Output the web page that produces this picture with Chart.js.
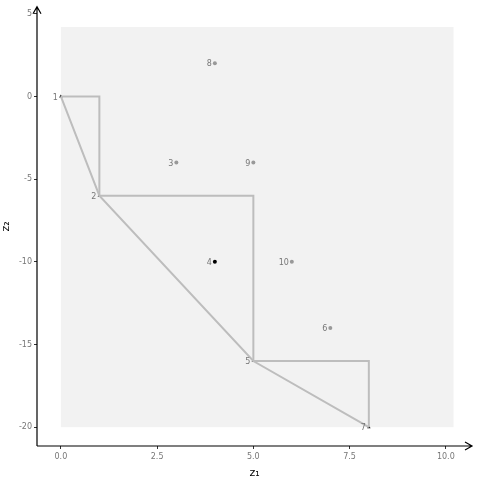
<!DOCTYPE html>
<html>
<head>
<meta charset="utf-8">
<script src="https://cdn.jsdelivr.net/npm/chart.js@4/dist/chart.umd.min.js"></script>
<style>
  html, body { margin: 0; padding: 0; background: #fff; }
  #wrap { width: 480px; height: 480px; }
</style>
</head>
<body>
<div id="wrap"><canvas id="chart" width="480" height="480"></canvas></div>
<script>
// point ids and coordinates
const pointIds = ['1', '2', '3', '4', '5', '6', '7', '8', '9', '10'];
const pointX = [0, 1, 3, 4, 5, 7, 8, 4, 5, 6];
const pointY = [0, -6, -4, -10, -16, -14, -20, 2, -4, -10];
// non-dominated points (black markers) and highlighted point
const frontIds = ['1', '2', '5', '7'];
const blackIds = ['4'];
// staircase and hull outlines
const stairX = [0, 1, 1, 5, 5, 8, 8];
const stairY = [0, 0, -6, -6, -16, -16, -20];
const hullX = [0, 1, 5, 8];
const hullY = [0, -6, -16, -20];
// shaded region corners
const regionX = [0, 10.2];
const regionY = [-20, 4.2];
// ticks
const xTicks = [0, 2.5, 5, 7.5, 10];
const yTicks = [5, 0, -5, -10, -15, -20];

const toXY = (xs, ys) => xs.map((x, i) => ({ x: x, y: ys[i] }));
const pick = (ids) => ids.map(id => ({ x: pointX[pointIds.indexOf(id)], y: pointY[pointIds.indexOf(id)] }));
const grayIds = pointIds.filter(id => !frontIds.includes(id) && !blackIds.includes(id));

const FONT = 'DejaVu Sans';

// shaded rectangle behind the data
const regionPlugin = {
  id: 'region',
  beforeDatasetsDraw(chart) {
    const { ctx, scales } = chart;
    const x0 = scales.x.getPixelForValue(regionX[0]);
    const x1 = scales.x.getPixelForValue(regionX[1]);
    const y0 = scales.y.getPixelForValue(regionY[1]);
    const y1 = scales.y.getPixelForValue(regionY[0]);
    ctx.save();
    ctx.fillStyle = '#f2f2f2';
    ctx.fillRect(x0, y0, x1 - x0, y1 - y0);
    ctx.restore();
  }
};

// point labels and axis arrows
const decoPlugin = {
  id: 'deco',
  afterDraw(chart) {
    const { ctx, scales, chartArea } = chart;
    ctx.save();
    ctx.fillStyle = '#777';
    ctx.font = '8px ' + FONT;
    ctx.textAlign = 'right';
    ctx.textBaseline = 'middle';
    pointIds.forEach((id, i) => {
      const px = scales.x.getPixelForValue(pointX[i]);
      const py = scales.y.getPixelForValue(pointY[i]);
      ctx.fillText(id, px - 3, py + 1);
    });
    // axes with arrow heads
    ctx.strokeStyle = '#000';
    ctx.lineWidth = 1.2;
    const left = chartArea.left, bottom = chartArea.bottom;
    ctx.beginPath();
    ctx.moveTo(left, bottom);
    ctx.lineTo(left, chartArea.top);
    ctx.moveTo(left - 4, chartArea.top + 7);
    ctx.lineTo(left, chartArea.top);
    ctx.lineTo(left + 4, chartArea.top + 7);
    ctx.moveTo(left, bottom);
    ctx.lineTo(chartArea.right, bottom);
    ctx.moveTo(chartArea.right - 7, bottom - 4);
    ctx.lineTo(chartArea.right, bottom);
    ctx.lineTo(chartArea.right - 7, bottom + 4);
    ctx.stroke();
    ctx.restore();
  }
};

new Chart(document.getElementById('chart'), {
  type: 'scatter',
  data: {
    datasets: [
      {
        data: toXY(stairX, stairY),
        showLine: true,
        borderColor: '#bdbdbd',
        borderWidth: 2,
        pointRadius: 0
      },
      {
        data: toXY(hullX, hullY),
        showLine: true,
        borderColor: '#bdbdbd',
        borderWidth: 2,
        pointRadius: 0
      },
      {
        data: pick(grayIds),
        pointRadius: 2,
        pointBackgroundColor: '#999',
        pointBorderWidth: 0
      },
      {
        data: pick(blackIds),
        pointRadius: 2,
        pointBackgroundColor: '#000',
        pointBorderWidth: 0
      },
      {
        data: pick(frontIds),
        pointStyle: 'triangle',
        pointRadius: 2,
        pointBackgroundColor: '#000',
        pointBorderWidth: 0
      }
    ]
  },
  options: {
    responsive: false,
    animation: false,
    layout: { padding: { top: 5, right: 8, left: 0, bottom: 0 } },
    plugins: {
      legend: { display: false },
      tooltip: { enabled: false }
    },
    scales: {
      x: {
        type: 'linear',
        min: -0.62,
        max: 10.68,
        border: { display: false },
        grid: { display: true, drawOnChartArea: false, drawTicks: true, tickLength: 3, color: '#333' },
        afterBuildTicks(scale) { scale.ticks = xTicks.map(v => ({ value: v })); },
        ticks: {
          color: '#777',
          font: { family: FONT, size: 8 },
          padding: 3,
          maxRotation: 0,
          callback: v => v.toFixed(1)
        },
        title: { display: true, text: 'z₁', color: '#000', font: { family: FONT, size: 11 }, padding: { top: 2, bottom: 0 } },
        afterFit(scale) { scale.height = 34; }
      },
      y: {
        type: 'linear',
        min: -21.14,
        max: 5.42,
        border: { display: false },
        grid: { display: true, drawOnChartArea: false, drawTicks: true, tickLength: 3, color: '#333' },
        afterBuildTicks(scale) { scale.ticks = yTicks.map(v => ({ value: v })); },
        ticks: {
          color: '#777',
          font: { family: FONT, size: 8 },
          padding: 2,
          callback: v => String(v)
        },
        title: { display: true, text: 'z₂', color: '#000', font: { family: FONT, size: 11 }, padding: { top: 0, bottom: 2 } },
        afterFit(scale) { scale.width = 37; }
      }
    }
  },
  plugins: [regionPlugin, decoPlugin]
});
</script>
</body>
</html>
